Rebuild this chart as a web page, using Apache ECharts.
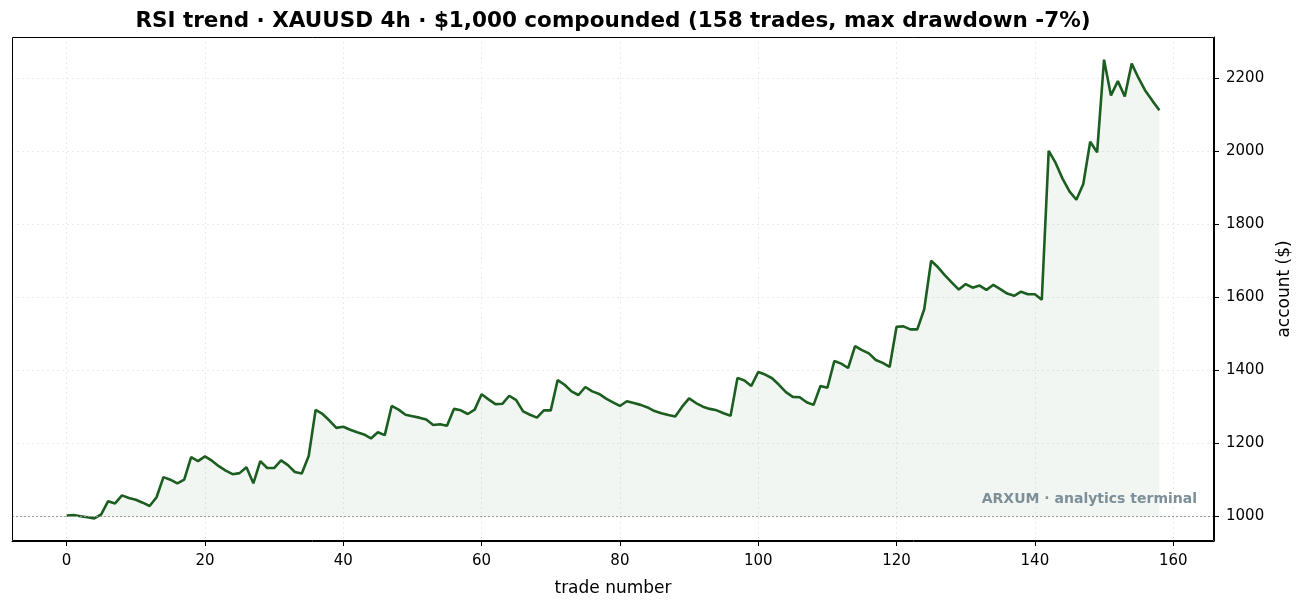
<!DOCTYPE html>
<html>
<head>
<meta charset="utf-8">
<script src="https://cdn.jsdelivr.net/npm/echarts@6/dist/echarts.min.js"></script>
<style>html,body{margin:0;padding:0;background:#fff}#c{width:1304px;height:608px}</style>
</head>
<body>
<div id="c"></div>
<script>
const titleText = "RSI trend · XAUUSD 4h · $1,000 compounded (158 trades, max drawdown -7%)";
const xLabel = "trade number";
const yLabel = "account ($)";
const watermark = "ARXUM · analytics terminal";
const startBalance = 1000;
const equity = [
  1002,1003,1000,997,994,1005,1041,1035,1057,1050,
  1045,1037,1028,1052,1107,1100,1090,1100,1162,1151,
  1164,1152,1137,1125,1115,1118,1134,1090,1151,1132,
  1132,1153,1140,1121,1117,1165,1291,1280,1262,1242,
  1245,1237,1230,1224,1213,1230,1222,1302,1292,1278,
  1274,1270,1265,1250,1252,1248,1294,1290,1280,1292,
  1334,1320,1307,1308,1330,1318,1287,1278,1270,1290,
  1290,1373,1360,1342,1332,1354,1342,1335,1322,1312,
  1302,1315,1310,1305,1298,1288,1282,1277,1273,1300,
  1323,1310,1300,1294,1290,1282,1275,1379,1372,1357,
  1395,1388,1378,1360,1340,1327,1326,1312,1305,1357,
  1352,1425,1418,1406,1466,1455,1446,1428,1420,1409,
  1519,1520,1512,1512,1567,1700,1682,1660,1640,1621,
  1636,1626,1632,1620,1634,1622,1610,1604,1615,1608,
  1608,1593,2001,1968,1925,1890,1867,1910,2026,1997,
  2251,2153,2192,2150,2240,2200,2165,2138,2112
];
const data = equity.map((v, i) => [i, v]);
const font = "DejaVu Sans";
const G = {left: 12, right: 90, top: 37, bottom: 67};
const plotW = 1304 - G.left - G.right;
const plotH = 608 - G.top - G.bottom;
const chart = echarts.init(document.getElementById('c'), null, {renderer: 'canvas'});
chart.setOption({
  animation: false,
  backgroundColor: '#fff',
  grid: {left: G.left, right: G.right, top: G.top, bottom: G.bottom, show: false},
  xAxis: {
    type: 'value', min: -7.9, max: 165.9, minInterval: 20, maxInterval: 20,
    name: xLabel, nameLocation: 'middle', nameGap: 39,
    nameTextStyle: {fontFamily: font, fontSize: 17, color: '#000'},
    axisLine: {show: true, onZero: false, lineStyle: {color: '#000', width: 1}},
    axisTick: {show: true, inside: false, length: 5, lineStyle: {color: '#000'}},
    axisLabel: {fontFamily: font, fontSize: 15, color: '#000', margin: 13, showMinLabel: false, showMaxLabel: false},
    splitLine: {show: true, lineStyle: {color: '#e6e6e6', type: [2, 3], width: 0.8}}
  },
  yAxis: {
    type: 'value', position: 'right', min: 932, max: 2313, minInterval: 200, maxInterval: 200,
    name: yLabel, nameLocation: 'middle', nameGap: 62, nameRotate: 90,
    nameTextStyle: {fontFamily: font, fontSize: 17, color: '#000'},
    axisLine: {show: true, onZero: false, lineStyle: {color: '#000', width: 1}},
    axisTick: {show: true, inside: false, length: 5, lineStyle: {color: '#000'}},
    axisLabel: {fontFamily: font, fontSize: 15, color: '#000', margin: 12, showMinLabel: false, showMaxLabel: false,
      formatter: v => String(v)},
    splitLine: {show: true, lineStyle: {color: '#e6e6e6', type: [2, 3], width: 0.8}}
  },
  graphic: [{
    type: 'rect', z: 100, silent: true,
    shape: {x: G.left + 0.5, y: G.top + 0.5, width: plotW - 1, height: plotH - 1},
    style: {fill: 'none', stroke: '#000', lineWidth: 1}
  }, {
    type: 'text', z: 100, silent: true,
    x: G.left + plotW / 2, y: 21,
    style: {text: titleText, fontFamily: font, fontWeight: 'bold', fontSize: 21.5, fill: '#000',
      align: 'center', verticalAlign: 'middle'}
  }, {
    type: 'text', right: 107, top: 492, z: 10,
    style: {text: watermark, fontFamily: font, fontWeight: 'bold', fontSize: 14, fill: '#7d8f98'}
  }],
  series: [{
    type: 'line', data: data, showSymbol: false, symbol: 'none',
    lineStyle: {color: '#1b5e20', width: 2.6},
    areaStyle: {color: 'rgba(27,94,32,0.085)', origin: startBalance},
    markLine: {
      silent: true, symbol: ['none', 'none'], label: {show: false},
      lineStyle: {color: '#999', type: [2, 2], width: 1},
      data: [{yAxis: startBalance}]
    }
  }]
});
</script>
</body>
</html>
